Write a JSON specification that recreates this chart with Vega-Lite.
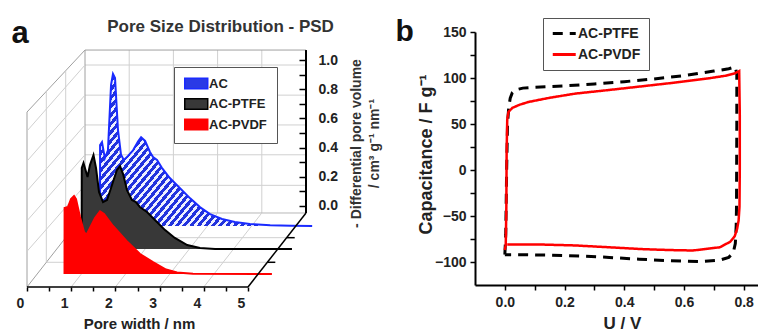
{
  "$schema": "https://vega.github.io/schema/vega-lite/v6.json",
  "autosize": {"type": "pad"},
  "padding": {"left": 11, "top": 16, "right": 0, "bottom": 0},
  "bounds": "flush",
  "spacing": 169,
  "config": {
    "view": {"stroke": null},
    "font": "Liberation Sans",
    "axis": {"labelFont": "Liberation Sans", "titleFont": "Liberation Sans", "labelFontWeight": "bold", "titleFontWeight": "bold", "grid": false},
    "legend": {"labelFont": "Liberation Sans", "labelFontWeight": "bold"}
  },
  "datasets": {
    "one": [{"k": 1}],
    "w14": [{"w": 1}, {"w": 2}, {"w": 3}, {"w": 4}],
    "hv": [{"v": 0.14}, {"v": 0.35}, {"v": 0.555}, {"v": 0.76}, {"v": 0.967}],
    "ac": [{"w":0.57,"v":0},{"w":0.572,"v":0.557},{"w":0.615,"v":0.577},{"w":0.68,"v":0.467},{"w":0.75,"v":0.52},{"w":0.82,"v":0.97},{"w":0.864,"v":1.045},{"w":0.91,"v":1.017},{"w":0.977,"v":0.66},{"w":1.045,"v":0.49},{"w":1.11,"v":0.454},{"w":1.2,"v":0.48},{"w":1.317,"v":0.52},{"w":1.43,"v":0.58},{"w":1.5,"v":0.61},{"w":1.59,"v":0.585},{"w":1.7,"v":0.509},{"w":1.77,"v":0.474},{"w":1.86,"v":0.454},{"w":1.97,"v":0.4},{"w":2.15,"v":0.33},{"w":2.38,"v":0.26},{"w":2.61,"v":0.19},{"w":2.83,"v":0.13},{"w":3.06,"v":0.082},{"w":3.33,"v":0.048},{"w":3.62,"v":0.027},{"w":3.96,"v":0.014},{"w":4.42,"v":0.005},{"w":4.9,"v":0.001},{"w":5.37,"v":0}],
    "ptfe": [{"s":"AC-PTFE","w":0.563,"v":0},{"s":"AC-PTFE","w":0.565,"v":0.557},{"s":"AC-PTFE","w":0.604,"v":0.591},{"s":"AC-PTFE","w":0.65,"v":0.543},{"s":"AC-PTFE","w":0.695,"v":0.495},{"s":"AC-PTFE","w":0.75,"v":0.577},{"s":"AC-PTFE","w":0.83,"v":0.646},{"s":"AC-PTFE","w":0.887,"v":0.557},{"s":"AC-PTFE","w":0.955,"v":0.392},{"s":"AC-PTFE","w":1.045,"v":0.323},{"s":"AC-PTFE","w":1.136,"v":0.337},{"s":"AC-PTFE","w":1.249,"v":0.44},{"s":"AC-PTFE","w":1.36,"v":0.543},{"s":"AC-PTFE","w":1.43,"v":0.57},{"s":"AC-PTFE","w":1.5,"v":0.515},{"s":"AC-PTFE","w":1.588,"v":0.405},{"s":"AC-PTFE","w":1.7,"v":0.337},{"s":"AC-PTFE","w":1.79,"v":0.323},{"s":"AC-PTFE","w":1.88,"v":0.289},{"s":"AC-PTFE","w":2.04,"v":0.254},{"s":"AC-PTFE","w":2.22,"v":0.199},{"s":"AC-PTFE","w":2.45,"v":0.13},{"s":"AC-PTFE","w":2.67,"v":0.076},{"s":"AC-PTFE","w":2.95,"v":0.027},{"s":"AC-PTFE","w":3.24,"v":0.007},{"s":"AC-PTFE","w":3.58,"v":0},{"s":"AC-PTFE","w":5.32,"v":0}],
    "pvdf": [{"s":"AC-PVDF","w":0.618,"v":0},{"s":"AC-PVDF","w":0.62,"v":0.454},{"s":"AC-PVDF","w":0.697,"v":0.46},{"s":"AC-PVDF","w":0.765,"v":0.515},{"s":"AC-PVDF","w":0.833,"v":0.536},{"s":"AC-PVDF","w":0.878,"v":0.515},{"s":"AC-PVDF","w":0.968,"v":0.392},{"s":"AC-PVDF","w":1.059,"v":0.289},{"s":"AC-PVDF","w":1.115,"v":0.268},{"s":"AC-PVDF","w":1.195,"v":0.316},{"s":"AC-PVDF","w":1.308,"v":0.385},{"s":"AC-PVDF","w":1.421,"v":0.43},{"s":"AC-PVDF","w":1.511,"v":0.412},{"s":"AC-PVDF","w":1.715,"v":0.33},{"s":"AC-PVDF","w":2.02,"v":0.227},{"s":"AC-PVDF","w":2.326,"v":0.137},{"s":"AC-PVDF","w":2.62,"v":0.082},{"s":"AC-PVDF","w":2.914,"v":0.031},{"s":"AC-PVDF","w":3.163,"v":0.01},{"s":"AC-PVDF","w":3.525,"v":0.002},{"s":"AC-PVDF","w":5.31,"v":0}],
    "cvptfe": [{"s":"AC-PTFE","o":1,"U":0,"C":-92},{"s":"AC-PTFE","o":2,"U":0.003,"C":-70},{"s":"AC-PTFE","o":3,"U":0.006,"C":0},{"s":"AC-PTFE","o":4,"U":0.009,"C":50},{"s":"AC-PTFE","o":5,"U":0.013,"C":68},{"s":"AC-PTFE","o":6,"U":0.018,"C":78},{"s":"AC-PTFE","o":7,"U":0.025,"C":84},{"s":"AC-PTFE","o":8,"U":0.035,"C":87},{"s":"AC-PTFE","o":9,"U":0.06,"C":89},{"s":"AC-PTFE","o":10,"U":0.1,"C":90},{"s":"AC-PTFE","o":11,"U":0.2,"C":91.5},{"s":"AC-PTFE","o":12,"U":0.3,"C":93.5},{"s":"AC-PTFE","o":13,"U":0.4,"C":96},{"s":"AC-PTFE","o":14,"U":0.5,"C":99},{"s":"AC-PTFE","o":15,"U":0.6,"C":102.5},{"s":"AC-PTFE","o":16,"U":0.7,"C":107.5},{"s":"AC-PTFE","o":17,"U":0.75,"C":110},{"s":"AC-PTFE","o":18,"U":0.772,"C":112},{"s":"AC-PTFE","o":19,"U":0.777,"C":104},{"s":"AC-PTFE","o":20,"U":0.777,"C":50},{"s":"AC-PTFE","o":21,"U":0.776,"C":-40},{"s":"AC-PTFE","o":22,"U":0.775,"C":-60},{"s":"AC-PTFE","o":23,"U":0.772,"C":-80},{"s":"AC-PTFE","o":24,"U":0.765,"C":-90},{"s":"AC-PTFE","o":25,"U":0.75,"C":-95},{"s":"AC-PTFE","o":26,"U":0.72,"C":-98},{"s":"AC-PTFE","o":27,"U":0.65,"C":-99.5},{"s":"AC-PTFE","o":28,"U":0.55,"C":-98.5},{"s":"AC-PTFE","o":29,"U":0.45,"C":-97},{"s":"AC-PTFE","o":30,"U":0.35,"C":-95},{"s":"AC-PTFE","o":31,"U":0.25,"C":-93.5},{"s":"AC-PTFE","o":32,"U":0.15,"C":-92.5},{"s":"AC-PTFE","o":33,"U":0.05,"C":-92},{"s":"AC-PTFE","o":34,"U":0,"C":-92}],
    "cvpvdf": [{"s":"AC-PVDF","o":1,"U":0,"C":-87},{"s":"AC-PVDF","o":2,"U":0.003,"C":-81},{"s":"AC-PVDF","o":3,"U":0.005,"C":-40},{"s":"AC-PVDF","o":4,"U":0.006,"C":20},{"s":"AC-PVDF","o":5,"U":0.008,"C":55},{"s":"AC-PVDF","o":6,"U":0.012,"C":63},{"s":"AC-PVDF","o":7,"U":0.025,"C":67.5},{"s":"AC-PVDF","o":8,"U":0.05,"C":71},{"s":"AC-PVDF","o":9,"U":0.08,"C":74},{"s":"AC-PVDF","o":10,"U":0.15,"C":78.5},{"s":"AC-PVDF","o":11,"U":0.235,"C":83},{"s":"AC-PVDF","o":12,"U":0.35,"C":87},{"s":"AC-PVDF","o":13,"U":0.46,"C":91},{"s":"AC-PVDF","o":14,"U":0.57,"C":95},{"s":"AC-PVDF","o":15,"U":0.68,"C":99.5},{"s":"AC-PVDF","o":16,"U":0.74,"C":102.5},{"s":"AC-PVDF","o":17,"U":0.77,"C":105},{"s":"AC-PVDF","o":18,"U":0.785,"C":107.5},{"s":"AC-PVDF","o":19,"U":0.787,"C":60},{"s":"AC-PVDF","o":20,"U":0.787,"C":0},{"s":"AC-PVDF","o":21,"U":0.786,"C":-40},{"s":"AC-PVDF","o":22,"U":0.783,"C":-55},{"s":"AC-PVDF","o":23,"U":0.778,"C":-64},{"s":"AC-PVDF","o":24,"U":0.77,"C":-72},{"s":"AC-PVDF","o":25,"U":0.755,"C":-78},{"s":"AC-PVDF","o":26,"U":0.72,"C":-84},{"s":"AC-PVDF","o":27,"U":0.63,"C":-87.5},{"s":"AC-PVDF","o":28,"U":0.55,"C":-87},{"s":"AC-PVDF","o":29,"U":0.46,"C":-86},{"s":"AC-PVDF","o":30,"U":0.35,"C":-84},{"s":"AC-PVDF","o":31,"U":0.235,"C":-82},{"s":"AC-PVDF","o":32,"U":0.12,"C":-81},{"s":"AC-PVDF","o":33,"U":0.05,"C":-81},{"s":"AC-PVDF","o":34,"U":0.008,"C":-81}]
  },
  "hconcat": [
    {
      "width": 279,
      "height": 253,
      "resolve": {"axis": {"x": "independent", "y": "independent"}},
      "layer": [
        {"data": {"name": "w14"}, "mark": {"type": "rule", "xOffset": 58, "color": "#d0d0d0", "strokeWidth": 1},
         "encoding": {
           "x": {"field": "w", "type": "quantitative", "scale": {"domain": [0, 6.312], "nice": false, "zero": false},
                 "axis": {"orient": "bottom", "offset": 2, "values": [0,0.5,1,1.5,2,2.5,3,3.5,4,4.5,5], "domain": false, "grid": false, "tickSize": 4, "tickColor": "#000", "tickWidth": 1.5, "labelExpr": "datum.value % 1 == 0 ? format(datum.value, 'd') : ''", "labelOffset": -7, "labelPadding": 5, "labelFontSize": 14, "labelColor": "#222", "labelFlush": false, "labelOverlap": false, "title": "Pore width / nm", "titleX": 112, "titleY": 41, "titleAlign": "center", "titleBaseline": "alphabetic", "titleFontSize": 15, "titleColor": "#222"}},
           "y": {"datum": -0.05, "type": "quantitative", "scale": {"domain": [-0.545, 1.194], "nice": false, "zero": false},
                 "axis": {"orient": "left", "domain": false, "ticks": false, "labels": false, "grid": false, "title": "a", "titleAngle": 0, "titleX": -16, "titleY": 10, "titleAlign": "left", "titleBaseline": "alphabetic", "titleFontSize": 31, "titleColor": "#111"}},
           "y2": {"datum": 1.07}
         }},
        {"data": {"name": "hv"}, "mark": {"type": "rule", "xOffset": 58, "x2Offset": 58, "color": "#d0d0d0", "strokeWidth": 1},
         "encoding": {
           "x": {"datum": 0, "type": "quantitative", "scale": {"domain": [0, 6.312], "nice": false, "zero": false}, "axis": null},
           "x2": {"datum": 5},
           "y": {"field": "v", "type": "quantitative", "scale": {"domain": [-0.545, 1.194], "nice": false, "zero": false},
                 "axis": {"orient": "right", "values": [0,0.1,0.2,0.3,0.4,0.5,0.6,0.7,0.8,0.9,1], "domain": false, "grid": false, "tickSize": -7, "tickColor": "#000", "tickWidth": 1.5, "labelPadding": 19, "labelExpr": "round(datum.value*10) % 2 == 0 ? format(datum.value, '.1f') : ''", "labelFontSize": 14, "labelColor": "#222", "labelFlush": false, "labelOverlap": false, "title": ["- Differential pore volume", "/ cm³ g⁻¹ nm⁻¹"], "titleAngle": 270, "titleX": 54, "titleY": 111, "titleAlign": "center", "titleBaseline": "alphabetic", "titleLineHeight": 18, "titleFontSize": 14, "titleColor": "#333"}}
         }},
        {"data": {"name": "one"}, "mark": {"type": "rule", "xOffset": 58, "color": "#a0a0a0", "strokeWidth": 1},
         "encoding": {"x": {"datum": 0, "type": "quantitative", "scale": {"domain": [0, 6.312], "nice": false, "zero": false}, "axis": null},
                      "y": {"datum": -0.05, "type": "quantitative", "scale": {"domain": [-0.545, 1.194], "nice": false, "zero": false}, "axis": null}, "y2": {"datum": 1.07}}},
        {"data": {"name": "one"}, "mark": {"type": "rule", "xOffset": 58, "x2Offset": 58, "color": "#a0a0a0", "strokeWidth": 1},
         "encoding": {"x": {"datum": 0, "type": "quantitative", "scale": {"domain": [0, 6.312], "nice": false, "zero": false}, "axis": null}, "x2": {"datum": 5},
                      "y": {"datum": 1.07, "type": "quantitative", "scale": {"domain": [-0.545, 1.194], "nice": false, "zero": false}, "axis": null}}},
        {"data": {"name": "one"}, "mark": {"type": "rule", "xOffset": 58, "x2Offset": 58, "color": "#b8b8b8", "strokeWidth": 1},
         "encoding": {"x": {"datum": 0, "type": "quantitative", "scale": {"domain": [0, 6.312], "nice": false, "zero": false}, "axis": null}, "x2": {"datum": 5},
                      "y": {"datum": -0.05, "type": "quantitative", "scale": {"domain": [-0.545, 1.194], "nice": false, "zero": false}, "axis": null}}},
        {"data": {"name": "w14"}, "mark": {"type": "rule", "xOffset": 58, "x2Offset": 0, "y2Offset": 74, "color": "#d0d0d0", "strokeWidth": 1},
         "encoding": {
           "x": {"field": "w", "type": "quantitative", "scale": {"domain": [0, 6.312], "nice": false, "zero": false},
                 "axis": {"orient": "top", "domain": false, "ticks": false, "labels": false, "grid": false, "title": "Pore Size Distribution - PSD", "titleX": 193, "titleY": -1, "titleAlign": "center", "titleBaseline": "alphabetic", "titleFontSize": 17, "titleColor": "#333"}},
           "x2": {"field": "w"},
           "y": {"datum": -0.05, "type": "quantitative", "scale": {"domain": [-0.545, 1.194], "nice": false, "zero": false}, "axis": null},
           "y2": {"datum": -0.05}
         }},
        {"data": {"name": "one"}, "mark": {"type": "rule", "xOffset": 38.7, "x2Offset": 38.7, "yOffset": 24.7, "color": "#d0d0d0", "strokeWidth": 1},
         "encoding": {"x": {"datum": 0, "type": "quantitative", "scale": {"domain": [0, 6.312], "nice": false, "zero": false}, "axis": null}, "x2": {"datum": 5},
                      "y": {"datum": -0.05, "type": "quantitative", "scale": {"domain": [-0.545, 1.194], "nice": false, "zero": false}, "axis": null}}},
        {"data": {"name": "one"}, "mark": {"type": "rule", "xOffset": 19.3, "x2Offset": 19.3, "yOffset": 49.3, "color": "#d0d0d0", "strokeWidth": 1},
         "encoding": {"x": {"datum": 0, "type": "quantitative", "scale": {"domain": [0, 6.312], "nice": false, "zero": false}, "axis": null}, "x2": {"datum": 5},
                      "y": {"datum": -0.05, "type": "quantitative", "scale": {"domain": [-0.545, 1.194], "nice": false, "zero": false}, "axis": null}}},
        {"data": {"name": "one"}, "mark": {"type": "rule", "xOffset": 58, "x2Offset": 0, "y2Offset": 74, "color": "#a0a0a0", "strokeWidth": 1},
         "encoding": {"x": {"datum": 0, "type": "quantitative", "scale": {"domain": [0, 6.312], "nice": false, "zero": false}, "axis": null}, "x2": {"datum": 0},
                      "y": {"datum": -0.05, "type": "quantitative", "scale": {"domain": [-0.545, 1.194], "nice": false, "zero": false}, "axis": null}, "y2": {"datum": -0.05}}},
        {"data": {"name": "one"}, "mark": {"type": "rule", "xOffset": 58, "x2Offset": 0, "y2Offset": 62, "color": "#a0a0a0", "strokeWidth": 1},
         "encoding": {"x": {"datum": 0, "type": "quantitative", "scale": {"domain": [0, 6.312], "nice": false, "zero": false}, "axis": null}, "x2": {"datum": 0},
                      "y": {"datum": 1.07, "type": "quantitative", "scale": {"domain": [-0.545, 1.194], "nice": false, "zero": false}, "axis": null}, "y2": {"datum": 1.07}}},
        {"data": {"name": "one"}, "mark": {"type": "rule", "yOffset": 74, "y2Offset": 62, "color": "#a0a0a0", "strokeWidth": 1},
         "encoding": {"x": {"datum": 0, "type": "quantitative", "scale": {"domain": [0, 6.312], "nice": false, "zero": false}, "axis": null},
                      "y": {"datum": -0.05, "type": "quantitative", "scale": {"domain": [-0.545, 1.194], "nice": false, "zero": false}, "axis": null}, "y2": {"datum": 1.07}}},
        {"data": {"name": "one"}, "mark": {"type": "rule", "xOffset": 38.7, "yOffset": 24.7, "y2Offset": 20.7, "color": "#d0d0d0", "strokeWidth": 1},
         "encoding": {"x": {"datum": 0, "type": "quantitative", "scale": {"domain": [0, 6.312], "nice": false, "zero": false}, "axis": null},
                      "y": {"datum": -0.05, "type": "quantitative", "scale": {"domain": [-0.545, 1.194], "nice": false, "zero": false}, "axis": null}, "y2": {"datum": 1.07}}},
        {"data": {"name": "one"}, "mark": {"type": "rule", "xOffset": 19.3, "yOffset": 49.3, "y2Offset": 41.3, "color": "#d0d0d0", "strokeWidth": 1},
         "encoding": {"x": {"datum": 0, "type": "quantitative", "scale": {"domain": [0, 6.312], "nice": false, "zero": false}, "axis": null},
                      "y": {"datum": -0.05, "type": "quantitative", "scale": {"domain": [-0.545, 1.194], "nice": false, "zero": false}, "axis": null}, "y2": {"datum": 1.07}}},
        {"data": {"name": "hv"}, "mark": {"type": "rule", "xOffset": 58, "x2Offset": 0, "y2Offset": 66, "color": "#d0d0d0", "strokeWidth": 1},
         "encoding": {"x": {"datum": 0, "type": "quantitative", "scale": {"domain": [0, 6.312], "nice": false, "zero": false}, "axis": null}, "x2": {"datum": 0},
                      "y": {"field": "v", "type": "quantitative", "scale": {"domain": [-0.545, 1.194], "nice": false, "zero": false}, "axis": null}, "y2": {"field": "v"}}},
        {"data": {"name": "ac"},
         "mark": {"type": "area", "xOffset": 47.8, "yOffset": 20.3, "y2Offset": 20.3,
                  "fill": {"gradient": "linear", "x1": 0, "y1": 0, "x2": 1, "y2": 0.6, "stops": [
                    {"offset":0,"color":"#2233dd"},{"offset":0.014,"color":"#2233dd"},{"offset":0.014,"color":"#eef0ff"},{"offset":0.025,"color":"#eef0ff"},
                    {"offset":0.025,"color":"#2233dd"},{"offset":0.039,"color":"#2233dd"},{"offset":0.039,"color":"#eef0ff"},{"offset":0.05,"color":"#eef0ff"},
                    {"offset":0.05,"color":"#2233dd"},{"offset":0.064,"color":"#2233dd"},{"offset":0.064,"color":"#eef0ff"},{"offset":0.075,"color":"#eef0ff"},
                    {"offset":0.075,"color":"#2233dd"},{"offset":0.089,"color":"#2233dd"},{"offset":0.089,"color":"#eef0ff"},{"offset":0.1,"color":"#eef0ff"},
                    {"offset":0.1,"color":"#2233dd"},{"offset":0.114,"color":"#2233dd"},{"offset":0.114,"color":"#eef0ff"},{"offset":0.125,"color":"#eef0ff"},
                    {"offset":0.125,"color":"#2233dd"},{"offset":0.139,"color":"#2233dd"},{"offset":0.139,"color":"#eef0ff"},{"offset":0.15,"color":"#eef0ff"},
                    {"offset":0.15,"color":"#2233dd"},{"offset":0.164,"color":"#2233dd"},{"offset":0.164,"color":"#eef0ff"},{"offset":0.175,"color":"#eef0ff"},
                    {"offset":0.175,"color":"#2233dd"},{"offset":0.189,"color":"#2233dd"},{"offset":0.189,"color":"#eef0ff"},{"offset":0.2,"color":"#eef0ff"},
                    {"offset":0.2,"color":"#2233dd"},{"offset":0.214,"color":"#2233dd"},{"offset":0.214,"color":"#eef0ff"},{"offset":0.225,"color":"#eef0ff"},
                    {"offset":0.225,"color":"#2233dd"},{"offset":0.239,"color":"#2233dd"},{"offset":0.239,"color":"#eef0ff"},{"offset":0.25,"color":"#eef0ff"},
                    {"offset":0.25,"color":"#2233dd"},{"offset":0.264,"color":"#2233dd"},{"offset":0.264,"color":"#eef0ff"},{"offset":0.275,"color":"#eef0ff"},
                    {"offset":0.275,"color":"#2233dd"},{"offset":0.289,"color":"#2233dd"},{"offset":0.289,"color":"#eef0ff"},{"offset":0.3,"color":"#eef0ff"},
                    {"offset":0.3,"color":"#2233dd"},{"offset":0.314,"color":"#2233dd"},{"offset":0.314,"color":"#eef0ff"},{"offset":0.325,"color":"#eef0ff"},
                    {"offset":0.325,"color":"#2233dd"},{"offset":0.339,"color":"#2233dd"},{"offset":0.339,"color":"#eef0ff"},{"offset":0.35,"color":"#eef0ff"},
                    {"offset":0.35,"color":"#2233dd"},{"offset":0.364,"color":"#2233dd"},{"offset":0.364,"color":"#eef0ff"},{"offset":0.375,"color":"#eef0ff"},
                    {"offset":0.375,"color":"#2233dd"},{"offset":0.389,"color":"#2233dd"},{"offset":0.389,"color":"#eef0ff"},{"offset":0.4,"color":"#eef0ff"},
                    {"offset":0.4,"color":"#2233dd"},{"offset":0.414,"color":"#2233dd"},{"offset":0.414,"color":"#eef0ff"},{"offset":0.425,"color":"#eef0ff"},
                    {"offset":0.425,"color":"#2233dd"},{"offset":0.439,"color":"#2233dd"},{"offset":0.439,"color":"#eef0ff"},{"offset":0.45,"color":"#eef0ff"},
                    {"offset":0.45,"color":"#2233dd"},{"offset":0.464,"color":"#2233dd"},{"offset":0.464,"color":"#eef0ff"},{"offset":0.475,"color":"#eef0ff"},
                    {"offset":0.475,"color":"#2233dd"},{"offset":0.489,"color":"#2233dd"},{"offset":0.489,"color":"#eef0ff"},{"offset":0.5,"color":"#eef0ff"},
                    {"offset":0.5,"color":"#2233dd"},{"offset":0.514,"color":"#2233dd"},{"offset":0.514,"color":"#eef0ff"},{"offset":0.525,"color":"#eef0ff"},
                    {"offset":0.525,"color":"#2233dd"},{"offset":0.539,"color":"#2233dd"},{"offset":0.539,"color":"#eef0ff"},{"offset":0.55,"color":"#eef0ff"},
                    {"offset":0.55,"color":"#2233dd"},{"offset":0.564,"color":"#2233dd"},{"offset":0.564,"color":"#eef0ff"},{"offset":0.575,"color":"#eef0ff"},
                    {"offset":0.575,"color":"#2233dd"},{"offset":0.589,"color":"#2233dd"},{"offset":0.589,"color":"#eef0ff"},{"offset":0.6,"color":"#eef0ff"},
                    {"offset":0.6,"color":"#2233dd"},{"offset":0.614,"color":"#2233dd"},{"offset":0.614,"color":"#eef0ff"},{"offset":0.625,"color":"#eef0ff"},
                    {"offset":0.625,"color":"#2233dd"},{"offset":0.639,"color":"#2233dd"},{"offset":0.639,"color":"#eef0ff"},{"offset":0.65,"color":"#eef0ff"},
                    {"offset":0.65,"color":"#2233dd"},{"offset":0.664,"color":"#2233dd"},{"offset":0.664,"color":"#eef0ff"},{"offset":0.675,"color":"#eef0ff"},
                    {"offset":0.675,"color":"#2233dd"},{"offset":0.689,"color":"#2233dd"},{"offset":0.689,"color":"#eef0ff"},{"offset":0.7,"color":"#eef0ff"},
                    {"offset":0.7,"color":"#2233dd"},{"offset":0.714,"color":"#2233dd"},{"offset":0.714,"color":"#eef0ff"},{"offset":0.725,"color":"#eef0ff"},
                    {"offset":0.725,"color":"#2233dd"},{"offset":0.739,"color":"#2233dd"},{"offset":0.739,"color":"#eef0ff"},{"offset":0.75,"color":"#eef0ff"},
                    {"offset":0.75,"color":"#2233dd"},{"offset":0.764,"color":"#2233dd"},{"offset":0.764,"color":"#eef0ff"},{"offset":0.775,"color":"#eef0ff"},
                    {"offset":0.775,"color":"#2233dd"},{"offset":0.789,"color":"#2233dd"},{"offset":0.789,"color":"#eef0ff"},{"offset":0.8,"color":"#eef0ff"},
                    {"offset":0.8,"color":"#2233dd"},{"offset":0.814,"color":"#2233dd"},{"offset":0.814,"color":"#eef0ff"},{"offset":0.825,"color":"#eef0ff"},
                    {"offset":0.825,"color":"#2233dd"},{"offset":0.839,"color":"#2233dd"},{"offset":0.839,"color":"#eef0ff"},{"offset":0.85,"color":"#eef0ff"},
                    {"offset":0.85,"color":"#2233dd"},{"offset":0.864,"color":"#2233dd"},{"offset":0.864,"color":"#eef0ff"},{"offset":0.875,"color":"#eef0ff"},
                    {"offset":0.875,"color":"#2233dd"},{"offset":0.889,"color":"#2233dd"},{"offset":0.889,"color":"#eef0ff"},{"offset":0.9,"color":"#eef0ff"},
                    {"offset":0.9,"color":"#2233dd"},{"offset":0.914,"color":"#2233dd"},{"offset":0.914,"color":"#eef0ff"},{"offset":0.925,"color":"#eef0ff"},
                    {"offset":0.925,"color":"#2233dd"},{"offset":0.939,"color":"#2233dd"},{"offset":0.939,"color":"#eef0ff"},{"offset":0.95,"color":"#eef0ff"},
                    {"offset":0.95,"color":"#2233dd"},{"offset":0.964,"color":"#2233dd"},{"offset":0.964,"color":"#eef0ff"},{"offset":0.975,"color":"#eef0ff"},
                    {"offset":0.975,"color":"#2233dd"},{"offset":0.989,"color":"#2233dd"},{"offset":0.989,"color":"#eef0ff"},{"offset":1,"color":"#eef0ff"}
                  ]}},
         "encoding": {"x": {"field": "w", "type": "quantitative", "scale": {"domain": [0, 6.312], "nice": false, "zero": false}, "axis": null},
                      "y": {"field": "v", "type": "quantitative", "scale": {"domain": [-0.545, 1.194], "nice": false, "zero": false}, "axis": null},
                      "y2": {"datum": 0}}},
        {"data": {"name": "ac"}, "mark": {"type": "line", "color": "#1a2bff", "strokeWidth": 2, "xOffset": 47.8, "yOffset": 20.3},
         "encoding": {"x": {"field": "w", "type": "quantitative", "scale": {"domain": [0, 6.312], "nice": false, "zero": false}, "axis": null},
                      "y": {"field": "v", "type": "quantitative", "scale": {"domain": [-0.545, 1.194], "nice": false, "zero": false}, "axis": null}}},
        {"data": {"name": "ptfe"}, "mark": {"type": "area", "xOffset": 29.8, "yOffset": 43.3, "y2Offset": 43.3},
         "encoding": {"x": {"field": "w", "type": "quantitative", "scale": {"domain": [0, 6.312], "nice": false, "zero": false}, "axis": null},
                      "y": {"field": "v", "type": "quantitative", "scale": {"domain": [-0.545, 1.194], "nice": false, "zero": false}, "axis": null},
                      "y2": {"datum": 0},
                      "fill": {"field": "s", "type": "nominal", "scale": {"domain": ["AC", "AC-PTFE", "AC-PVDF"], "range": ["#2a3ae6", "#383838", "#ff0000"]},
                               "legend": {"orient": "none", "legendX": 147, "legendY": 35, "title": null, "padding": 10, "rowPadding": 3.5, "fillColor": "#ffffff", "strokeColor": "#555555",
                                          "symbolType": "M-1,-0.9H3V0.9H-1Z", "symbolSize": 132, "labelFontSize": 13, "labelOffset": 12, "labelColor": "#222",
                                          "encode": {"symbols": {"update": {
                                            "stroke": [{"test": "datum.value === 'AC'", "value": "#1a2bff"}, {"test": "datum.value === 'AC-PTFE'", "value": "#000000"}, {"value": "#ff0000"}],
                                            "strokeWidth": {"value": 1.5},
                                            "opacity": {"value": 1}}}}}}}},
        {"data": {"name": "ptfe"}, "mark": {"type": "line", "color": "#000000", "strokeWidth": 2, "xOffset": 29.8, "yOffset": 43.3},
         "encoding": {"x": {"field": "w", "type": "quantitative", "scale": {"domain": [0, 6.312], "nice": false, "zero": false}, "axis": null},
                      "y": {"field": "v", "type": "quantitative", "scale": {"domain": [-0.545, 1.194], "nice": false, "zero": false}, "axis": null}}},
        {"data": {"name": "pvdf"}, "mark": {"type": "area", "xOffset": 10.2, "yOffset": 68.3, "y2Offset": 68.3, "fill": "#ff0000"},
         "encoding": {"x": {"field": "w", "type": "quantitative", "scale": {"domain": [0, 6.312], "nice": false, "zero": false}, "axis": null},
                      "y": {"field": "v", "type": "quantitative", "scale": {"domain": [-0.545, 1.194], "nice": false, "zero": false}, "axis": null},
                      "y2": {"datum": 0}}},
        {"data": {"name": "pvdf"}, "mark": {"type": "line", "color": "#ff0000", "strokeWidth": 2, "xOffset": 10.2, "yOffset": 68.3},
         "encoding": {"x": {"field": "w", "type": "quantitative", "scale": {"domain": [0, 6.312], "nice": false, "zero": false}, "axis": null},
                      "y": {"field": "v", "type": "quantitative", "scale": {"domain": [-0.545, 1.194], "nice": false, "zero": false}, "axis": null}}},
        {"data": {"name": "one"}, "mark": {"type": "rule", "xOffset": 58, "color": "#000000", "strokeWidth": 2},
         "encoding": {"x": {"datum": 5, "type": "quantitative", "scale": {"domain": [0, 6.312], "nice": false, "zero": false}, "axis": null},
                      "y": {"datum": -0.05, "type": "quantitative", "scale": {"domain": [-0.545, 1.194], "nice": false, "zero": false}, "axis": null}, "y2": {"datum": 1.07}}},
        {"data": {"name": "one"}, "mark": {"type": "rule", "xOffset": 58, "x2Offset": 0, "y2Offset": 74, "color": "#000000", "strokeWidth": 1.5},
         "encoding": {"x": {"datum": 5, "type": "quantitative", "scale": {"domain": [0, 6.312], "nice": false, "zero": false}, "axis": null}, "x2": {"datum": 5},
                      "y": {"datum": -0.05, "type": "quantitative", "scale": {"domain": [-0.545, 1.194], "nice": false, "zero": false}, "axis": null}, "y2": {"datum": -0.05}}},
        {"data": {"name": "one"}, "mark": {"type": "rule", "yOffset": 74, "color": "#000000", "strokeWidth": 1.5},
         "encoding": {"x": {"datum": 0, "type": "quantitative", "scale": {"domain": [0, 6.312], "nice": false, "zero": false}, "axis": null}, "x2": {"datum": 5},
                      "y": {"datum": -0.05, "type": "quantitative", "scale": {"domain": [-0.545, 1.194], "nice": false, "zero": false}, "axis": null}}},
        {"data": {"name": "one"}, "mark": {"type": "rule", "xOffset": 38.7, "x2Offset": 46.7, "yOffset": 24.7, "color": "#000000", "strokeWidth": 1.5},
         "encoding": {"x": {"datum": 5, "type": "quantitative", "scale": {"domain": [0, 6.312], "nice": false, "zero": false}, "axis": null}, "x2": {"datum": 5},
                      "y": {"datum": -0.05, "type": "quantitative", "scale": {"domain": [-0.545, 1.194], "nice": false, "zero": false}, "axis": null}}},
        {"data": {"name": "one"}, "mark": {"type": "rule", "xOffset": 19.3, "x2Offset": 27.3, "yOffset": 49.3, "color": "#000000", "strokeWidth": 1.5},
         "encoding": {"x": {"datum": 5, "type": "quantitative", "scale": {"domain": [0, 6.312], "nice": false, "zero": false}, "axis": null}, "x2": {"datum": 5},
                      "y": {"datum": -0.05, "type": "quantitative", "scale": {"domain": [-0.545, 1.194], "nice": false, "zero": false}, "axis": null}}}
      ]
    },
    {
      "width": 283,
      "height": 253,
      "resolve": {"axis": {"x": "independent", "y": "independent"}},
      "layer": [
        {"data": {"name": "cvptfe"}, "mark": {"type": "line", "strokeWidth": 3},
         "encoding": {
           "x": {"field": "U", "type": "quantitative", "scale": {"domain": [-0.1, 0.848], "nice": false, "zero": false},
                 "axis": {"orient": "bottom", "values": [0,0.1,0.2,0.3,0.4,0.5,0.6,0.7,0.8], "labelExpr": "round(datum.value*10) % 2 == 0 ? format(datum.value, '.1f') : ''", "domainColor": "#000", "domainWidth": 2, "tickColor": "#000", "tickWidth": 1.5, "tickSize": 5, "labelPadding": 5, "labelFontSize": 14, "labelColor": "#222", "labelFlush": false, "labelOverlap": false, "grid": false, "title": "U / V", "titleFontSize": 17, "titleColor": "#222", "titleX": 147, "titleY": 43, "titleAlign": "center", "titleBaseline": "alphabetic"}},
           "y": {"field": "C", "type": "quantitative", "scale": {"domain": [-125, 150], "nice": false, "zero": false},
                 "axis": {"orient": "left", "values": [-100,-75,-50,-25,0,25,50,75,100,125,150], "labelExpr": "datum.value % 50 == 0 ? datum.label : ''", "domainColor": "#000", "domainWidth": 2, "tickColor": "#000", "tickWidth": 1.5, "tickSize": 5, "labelPadding": 4, "labelFontSize": 14, "labelColor": "#222", "labelFlush": false, "labelOverlap": false, "grid": false, "title": "Capacitance / F g⁻¹", "titleFontSize": 18, "titleColor": "#222", "titleAngle": 270, "titleX": -44, "titleY": 122, "titleAlign": "center", "titleBaseline": "alphabetic"}},
           "order": {"field": "o", "type": "quantitative"},
           "color": {"field": "s", "type": "nominal", "scale": {"domain": ["AC-PTFE", "AC-PVDF"], "range": ["#000000", "#ff0000"]},
                     "legend": {"orient": "none", "legendX": 516, "legendY": -14, "title": null, "padding": 8, "rowPadding": 6, "fillColor": "#ffffff", "strokeColor": "#555555", "symbolType": "M-1,0H3", "symbolSize": 132, "symbolStrokeWidth": 3, "labelFontSize": 14, "labelOffset": 12, "labelColor": "#222"}},
           "strokeDash": {"field": "s", "type": "nominal", "scale": {"domain": ["AC-PTFE", "AC-PVDF"], "range": [[10, 7], [1, 0]]},
                     "legend": {"orient": "none", "legendX": 516, "legendY": -14, "title": null, "padding": 8, "rowPadding": 6, "fillColor": "#ffffff", "strokeColor": "#555555", "symbolType": "M-1,0H3", "symbolSize": 132, "symbolStrokeWidth": 3, "labelFontSize": 14, "labelOffset": 12, "labelColor": "#222"}}
         }},
        {"data": {"name": "cvpvdf"}, "mark": {"type": "line", "strokeWidth": 2.5},
         "encoding": {
           "x": {"field": "U", "type": "quantitative", "scale": {"domain": [-0.1, 0.848], "nice": false, "zero": false},
                 "axis": {"orient": "top", "domain": false, "ticks": false, "labels": false, "grid": false, "title": "b", "titleX": -80, "titleY": 8, "titleAlign": "left", "titleBaseline": "alphabetic", "titleFontSize": 30, "titleColor": "#111"}},
           "y": {"field": "C", "type": "quantitative", "scale": {"domain": [-125, 150], "nice": false, "zero": false}, "axis": null},
           "order": {"field": "o", "type": "quantitative"},
           "color": {"field": "s", "type": "nominal", "scale": {"domain": ["AC-PTFE", "AC-PVDF"], "range": ["#000000", "#ff0000"]}, "legend": null},
           "strokeDash": {"field": "s", "type": "nominal", "scale": {"domain": ["AC-PTFE", "AC-PVDF"], "range": [[10, 7], [1, 0]]}, "legend": null}
         }}
      ]
    }
  ]
}
